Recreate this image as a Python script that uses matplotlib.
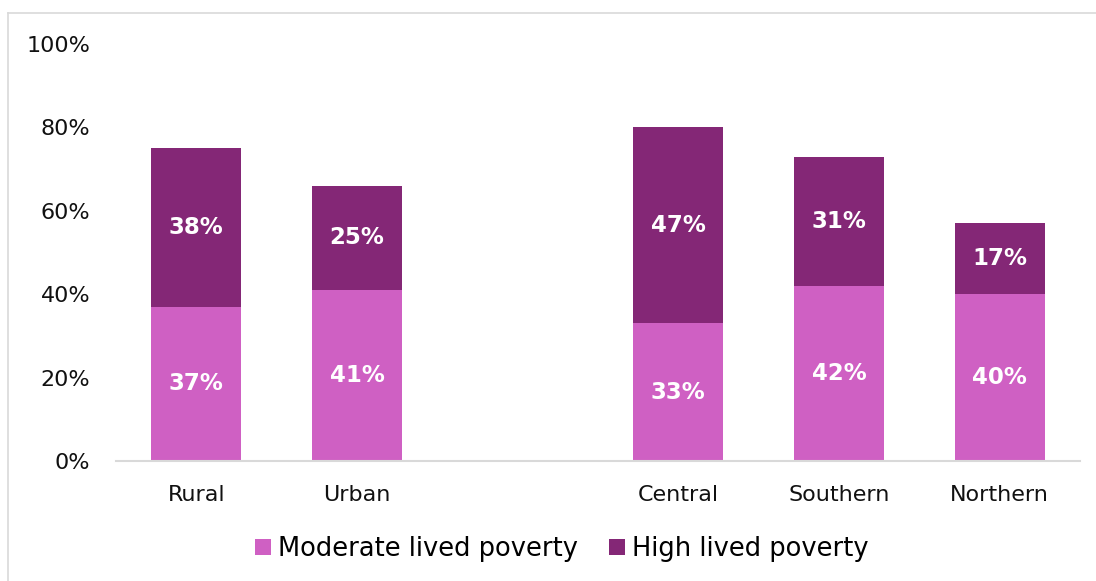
import matplotlib
matplotlib.use('Agg')
import numpy as np
import matplotlib.pyplot as plt
from matplotlib.lines import Line2D

# --- Data ---
regions = ['Rural', 'Urban', '', 'Central', 'Southern', 'Northern']
moderate = [37, 41, 0, 33, 42, 40]
high = [38, 25, 0, 47, 31, 17]
series_names = ['Moderate lived poverty', 'High lived poverty']
y_ticks = [0, 20, 40, 60, 80, 100]

col_mod = '#CF60C3'
col_high = '#842776'

plt.rcParams['font.family'] = ['DejaVu Sans']

fig = plt.figure(figsize=(10.96, 5.81), dpi=100)
ax = fig.add_axes([116 / 1096, 1 - 461 / 581, (1080 - 116) / 1096, (461 - 44) / 581])

x = np.arange(len(regions))
keep = np.array([r != '' for r in regions])
mod = np.array(moderate)
hi = np.array(high)

ax.bar(x[keep], mod[keep], width=0.56, color=col_mod, label=series_names[0])
ax.bar(x[keep], hi[keep], width=0.56, bottom=mod[keep], color=col_high, label=series_names[1])

# value labels in the middle of each segment
for xi, m, h in zip(x[keep], mod[keep], hi[keep]):
    ax.text(xi, m / 2, f'{m}%', ha='center', va='center', color='white',
            fontsize=16.5, fontweight='bold')
    ax.text(xi, m + h / 2, f'{h}%', ha='center', va='center', color='white',
            fontsize=16.5, fontweight='bold')

ax.set_xlim(-0.5, len(regions) - 0.5)
ax.set_ylim(0, 100)
ax.set_yticks(y_ticks)
ax.set_yticklabels([f'{t}%' for t in y_ticks], fontsize=16)
ax.set_xticks(x[keep])
ax.set_xticklabels([r for r in regions if r], fontsize=16)
ax.tick_params(axis='both', length=0, colors='#111111')
ax.tick_params(axis='y', pad=18.5)
ax.tick_params(axis='x', pad=17)

for s in ['top', 'right', 'left']:
    ax.spines[s].set_visible(False)
ax.spines['bottom'].set_color('#d9d9d9')
ax.spines['bottom'].set_linewidth(1.5)

ax.legend(loc='center', bbox_to_anchor=(562 / 1096, 1 - 549 / 581),
          bbox_transform=fig.transFigure, ncol=2, frameon=False, fontsize=18.5,
          handlelength=0.6, handleheight=0.6, handletextpad=0.3, columnspacing=1.2)

# light outer border (top and left visible)
fig.add_artist(Line2D([7.5 / 1096, 1], [1 - 12.5 / 581] * 2, color='#d9d9d9', lw=1.2,
                      transform=fig.transFigure))
fig.add_artist(Line2D([7.5 / 1096] * 2, [0, 1 - 12.5 / 581], color='#d9d9d9', lw=1.2,
                      transform=fig.transFigure))

fig.savefig('out.png', dpi=100)
